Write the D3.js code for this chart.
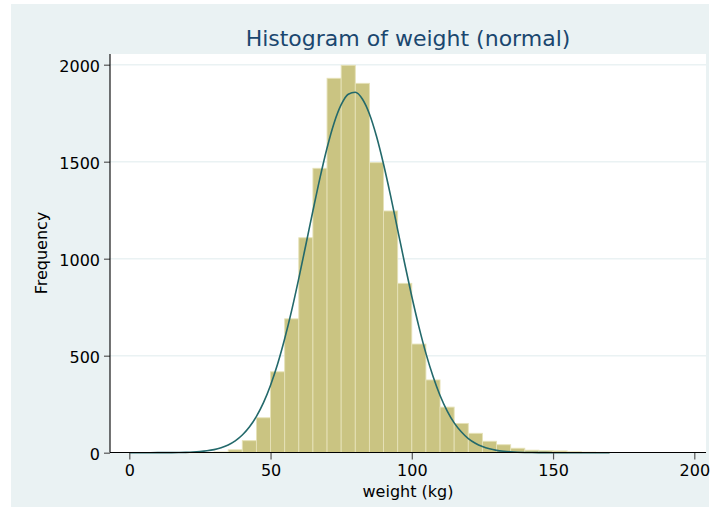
<!DOCTYPE html>
<html><head><meta charset="utf-8">
<script src="https://cdn.jsdelivr.net/npm/d3@7"></script>
<style>html,body{margin:0;padding:0;background:#fff;} svg{display:block;}</style>
</head><body><svg id="chart" width="713" height="514"></svg>
<script>
// ---- data ----
const binWidth = 5;
const binStarts = [0,5,10,15,20,25,30,35,40,45,50,55,60,65,70,75,80,85,90,95,100,105,110,115,120,125,130,135,140,145,150,155,160,165];
const counts = [0,0,0,0,1,1,4,15,62,180,417,690,1108,1466,1930,1997,1904,1495,1246,873,560,375,235,151,100,59,41,23,13,10,9,5,3,2];
const curveX = [0,2.5,5,7.5,10,12.5,15,17.5,20,22.5,25,27.5,30,32.5,35,37.5,40,42.5,45,47.5,50,52.5,55,57.5,60,62.5,65,67.5,70,72.5,75,77.5,80,82.5,85,87.5,90,92.5,95,97.5,100,102.5,105,107.5,110,112.5,115,117.5,120,122.5,125,127.5,130,132.5,135,137.5,140,142.5,145,147.5,150,152.5,155,157.5,160,162.5,165,167.5,170];
const curveY = [0,0,0,0.1,0.2,0.3,0.6,1.1,1.9,3.4,5.9,9.8,16,26,40,61,91,132,187,258,348,457,587,735,899,1072,1247,1417,1571,1700,1794,1848,1858,1823,1746,1631,1487,1324,1149,974,805,650,512,394,295,216,154,108,73,49,32,20,12,7.4,4.4,2.5,1.4,0.8,0.4,0.2,0.1,0.1,0,0,0,0,0,0,0];
const xTicks = [0,50,100,150,200];
const yTicks = [0,500,1000,1500,2000];
const titleText = "Histogram of weight (normal)";
const xTitle = "weight (kg)";
const yTitle = "Frequency";

// ---- drawing ----
const svg = d3.select("#chart");
const FONT = "'DejaVu Sans', sans-serif";
const plot = {left:110, right:706, top:54, bottom:452.5};
const x = d3.scaleLinear().domain([0,200]).range([129.3,694.3]);
const y = d3.scaleLinear().domain([0,2000]).range([452.7,64.7]);

svg.append("rect").attr("x",0).attr("y",0).attr("width",713).attr("height",514).attr("fill","#ffffff");
svg.append("rect").attr("x",11).attr("y",4).attr("width",698).attr("height",503).attr("fill","#eaf2f3");
svg.append("rect").attr("x",plot.left).attr("y",plot.top).attr("width",plot.right-plot.left).attr("height",plot.bottom-plot.top).attr("fill","#ffffff");

// gridlines
svg.append("g").selectAll("line").data(yTicks.filter(d=>d>0)).join("line")
  .attr("x1",plot.left).attr("x2",plot.right)
  .attr("y1",d=>y(d)).attr("y2",d=>y(d))
  .attr("stroke","#eaf2f3").attr("stroke-width",1.5);

// bars
svg.append("g").selectAll("rect").data(binStarts.map((s,i)=>({s,c:counts[i]}))).join("rect")
  .attr("x",d=>x(d.s)).attr("width",d=>x(d.s+binWidth)-x(d.s))
  .attr("y",d=>y(d.c)).attr("height",d=>y(0)-y(d.c))
  .attr("fill","#cac482").attr("stroke","#e6e2b8").attr("stroke-width",0.9);

// normal curve
const line = d3.line().x(d=>x(d[0])).y(d=>y(d[1])).curve(d3.curveMonotoneX);
svg.append("path").datum(curveX.map((v,i)=>[v,curveY[i]]))
  .attr("d",line).attr("fill","none").attr("stroke","#23696b").attr("stroke-width",1.6);

// axes
const yAxis = d3.axisLeft(y).tickValues(yTicks).tickFormat(d3.format("d")).tickSize(6).tickSizeOuter(0).tickPadding(4);
const gy = svg.append("g").attr("transform",`translate(${plot.left},0)`).call(yAxis);
gy.select(".domain").remove();
gy.selectAll(".tick line").attr("stroke","#555").attr("stroke-width",1.2);
gy.selectAll(".tick text").attr("font-family",FONT).attr("font-size",16).attr("fill","#000").attr("dy","0.42em");

const xAxis = d3.axisBottom(x).tickValues(xTicks).tickFormat(d3.format("d")).tickSize(7).tickSizeOuter(0).tickPadding(3);
const gx = svg.append("g").attr("transform",`translate(0,${plot.bottom})`).call(xAxis);
gx.select(".domain").remove();
gx.selectAll(".tick line").attr("stroke","#555").attr("stroke-width",1.2);
gx.selectAll(".tick text").attr("font-family",FONT).attr("font-size",16).attr("fill","#000").attr("dy","0.85em");

svg.append("line").attr("x1",plot.left).attr("x2",plot.left).attr("y1",plot.top).attr("y2",plot.bottom)
  .attr("stroke","#000").attr("stroke-width",1.1);
svg.append("line").attr("x1",plot.left).attr("x2",plot.right).attr("y1",plot.bottom).attr("y2",plot.bottom)
  .attr("stroke","#000").attr("stroke-width",1.1);

// titles
svg.append("text").attr("x",408).attr("y",46).attr("text-anchor","middle")
  .attr("font-family",FONT).attr("font-size",22).attr("fill","#1a476f").text(titleText);
svg.append("text").attr("x",408).attr("y",497).attr("text-anchor","middle")
  .attr("font-family",FONT).attr("font-size",16).attr("fill","#000").text(xTitle);
svg.append("text").attr("transform","translate(46.5,253) rotate(-90)").attr("text-anchor","middle")
  .attr("font-family",FONT).attr("font-size",16).attr("fill","#000").text(yTitle);
</script>
</body></html>
